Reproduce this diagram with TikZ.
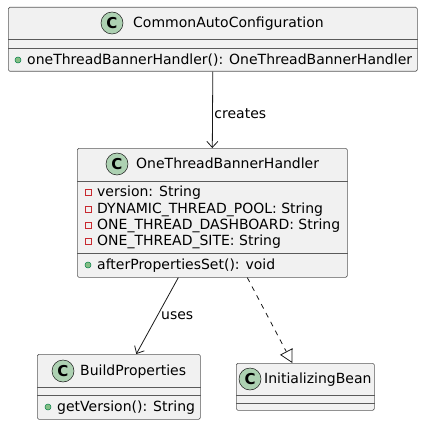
\documentclass[tikz,border=0pt]{standalone}
\usepackage{fontspec}
\setmainfont{DejaVu Sans}
\usetikzlibrary{arrows.meta, positioning, calc}

\definecolor{boxfill}{HTML}{F1F1F1}
\definecolor{boxline}{HTML}{5A5A5A}
\definecolor{iconfill}{HTML}{ADD1B2}
\definecolor{pubfill}{HTML}{84BE84}
\definecolor{publine}{HTML}{038048}
\definecolor{privline}{HTML}{C82930}
\definecolor{ink}{HTML}{181818}

\begin{document}
\begin{tikzpicture}[x=1pt, y=-1pt,
        classbox/.style={
            draw=boxline, fill=boxfill, line width=0.6pt,
            rounded corners=1.5pt, anchor=north west, inner sep=0pt
        },
        sep/.style={draw=boxline, line width=0.6pt},
        icon/.style={
            circle, draw=ink, fill=iconfill, line width=0.5pt,
            minimum size=22pt, inner sep=0pt,
            font=\fontsize{15}{15}\selectfont\bfseries
        },
        label/.style={
            anchor=west, inner sep=0pt, text height=10.5pt, text depth=3pt,
            font=\fontsize{14}{14}\selectfont
        },
        pub/.style={circle, draw=publine, fill=pubfill, line width=0.5pt, minimum size=6pt, inner sep=0pt},
        priv/.style={rectangle, draw=privline, line width=0.6pt, minimum size=6pt, inner sep=0pt},
        arrow/.style={draw=ink, line width=0.8pt, -{Straight Barb[length=6pt, width=11pt]}},
        realize/.style={draw=ink, line width=0.8pt, dash pattern=on 5pt off 5pt,
            -{Triangle[open, length=13pt, width=14pt, fill=white]}},
        edgelabel/.style={inner sep=1.5pt, font=\fontsize{14}{14}\selectfont}
    ]
    \useasboundingbox (0,0) rectangle (423,425);

    % CommonAutoConfiguration
    \node[classbox, minimum width=409pt, minimum height=64pt] (config) at (8,7) {};
    \draw[sep] ([yshift=-32pt]config.north west) -- ([yshift=-32pt]config.north east);
    \draw[sep] ([yshift=-41pt]config.north west) -- ([yshift=-41pt]config.north east);
    \node[icon] (configicon) at (112,23) {C};
    \node[label] (configname) at (133,23.5) {CommonAutoConfiguration};
    \node[pub] (configpub) at (18,60) {};
    \node[label] (configop) at (27,60.5) {oneThreadBannerHandler(): OneThreadBannerHandler};

    % OneThreadBannerHandler
    \node[classbox, minimum width=270pt, minimum height=129pt] (handler) at (77,148) {};
    \draw[sep] ([yshift=-33pt]handler.north west) -- ([yshift=-33pt]handler.north east);
    \draw[sep] ([yshift=-105pt]handler.north west) -- ([yshift=-105pt]handler.north east);
    \node[icon] (handlericon) at (117,164) {C};
    \node[label] (handlername) at (136,164.5) {OneThreadBannerHandler};
    \node[priv] (attr1) at (88,192) {};
    \node[label] (attr1text) at (97,192.5) {version: String};
    \node[priv] (attr2) at (88,209) {};
    \node[label] (attr2text) at (97,209.5) {DYNAMIC\_THREAD\_POOL: String};
    \node[priv] (attr3) at (88,225) {};
    \node[label] (attr3text) at (97,225.5) {ONE\_THREAD\_DASHBOARD: String};
    \node[priv] (attr4) at (88,241) {};
    \node[label] (attr4text) at (97,241.5) {ONE\_THREAD\_SITE: String};
    \node[pub] (handlerpub) at (88,265) {};
    \node[label] (handlerop) at (97,265.5) {afterPropertiesSet(): void};

    % BuildProperties
    \node[classbox, minimum width=163pt, minimum height=65pt] (build) at (37,354) {};
    \draw[sep] ([yshift=-33pt]build.north west) -- ([yshift=-33pt]build.north east);
    \draw[sep] ([yshift=-41pt]build.north west) -- ([yshift=-41pt]build.north east);
    \node[icon] (buildicon) at (63,371) {C};
    \node[label] (buildname) at (80,371.5) {BuildProperties};
    \node[pub] (buildpub) at (48,407) {};
    \node[label] (buildop) at (57,407.5) {getVersion(): String};

    % InitializingBean
    \node[classbox, minimum width=138pt, minimum height=47pt] (bean) at (236,363) {};
    \draw[sep] ([yshift=-32pt]bean.north west) -- ([yshift=-32pt]bean.north east);
    \draw[sep] ([yshift=-40pt]bean.north west) -- ([yshift=-40pt]bean.north east);
    \node[icon] (beanicon) at (250,379) {C};
    \node[label] (beanname) at (264,379.5) {InitializingBean};

    % relations
    \draw[arrow] (config.south) -- (handler.north) node[edgelabel, pos=0.55, right] {creates};
    \draw[arrow] ([xshift=-34pt]handler.south) -- ([xshift=17.5pt]build.north) node[edgelabel, midway, right, xshift=2pt] {uses};
    \draw[realize] ([xshift=35pt]handler.south) -- ([xshift=-13pt]bean.north);
\end{tikzpicture}
\end{document}
